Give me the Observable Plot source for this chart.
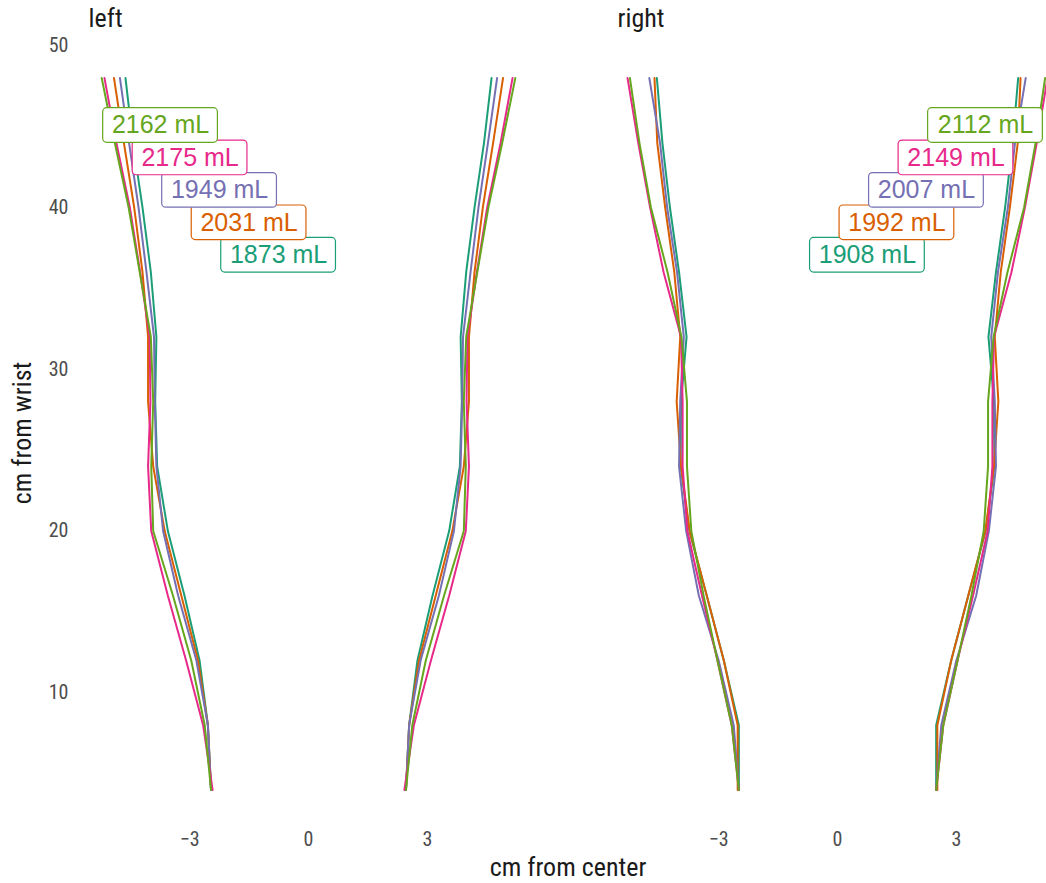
<!DOCTYPE html>
<html>
<head>
<meta charset="utf-8">
<script src="https://cdn.jsdelivr.net/npm/d3@7"></script>
<script src="https://cdn.jsdelivr.net/npm/@observablehq/plot@0.6"></script>
<style>
  html, body { margin: 0; padding: 0; background: #ffffff; }
  #chart { width: 1046px; height: 883px; overflow: hidden; }
</style>
</head>
<body>
<div id="chart"></div>
<script>
// ---- data -------------------------------------------------------------
const arms = ["left", "right"];
const heights = [4, 8, 12, 16, 20, 24, 28, 32, 36, 40, 44, 48]; // cm from wrist
const subjects = ["1", "2", "3", "4", "5"];
const subjectColors = ["#1b9e77", "#d95f02", "#7570b3", "#e7298a", "#66a61e"];

// arm radius (cm from center) at each height, left arm
const left1 = [2.46, 2.54, 2.75, 3.13, 3.55, 3.82, 3.87, 3.84, 3.98, 4.19, 4.43, 4.62];
const left2 = [2.46, 2.54, 2.79, 3.21, 3.63, 3.92, 4.05, 4.05, 4.19, 4.40, 4.66, 4.91];
const left3 = [2.46, 2.54, 2.83, 3.29, 3.67, 3.84, 3.88, 3.90, 4.09, 4.29, 4.53, 4.76];
const left4 = [2.42, 2.66, 3.09, 3.55, 3.97, 4.05, 3.99, 4.01, 4.25, 4.51, 4.85, 5.15];
const left5 = [2.46, 2.62, 2.96, 3.42, 3.92, 3.97, 3.92, 3.98, 4.26, 4.54, 4.89, 5.22];
// right arm
const right1 = [2.49, 2.49, 2.87, 3.30, 3.74, 3.96, 3.95, 3.81, 4.00, 4.23, 4.42, 4.56];
const right2 = [2.52, 2.52, 2.87, 3.30, 3.73, 3.95, 4.06, 3.97, 4.12, 4.35, 4.55, 4.62];
const right3 = [2.49, 2.62, 3.00, 3.50, 3.82, 4.00, 3.97, 3.88, 4.05, 4.30, 4.48, 4.75];
const right4 = [2.49, 2.67, 3.03, 3.42, 3.79, 3.91, 3.91, 3.95, 4.39, 4.73, 5.03, 5.30];
const right5 = [2.49, 2.67, 3.03, 3.38, 3.69, 3.80, 3.80, 3.94, 4.29, 4.71, 5.00, 5.24];

const volumesLeft = [1873, 2031, 1949, 2175, 2162];   // mL
const volumesRight = [1908, 1992, 2007, 2149, 2112];  // mL

const xTicks = [-3, 0, 3];
const yTicks = [10, 20, 30, 40, 50];

// ---- build tables -----------------------------------------------------
const radii = {left: [left1, left2, left3, left4, left5], right: [right1, right2, right3, right4, right5]};
const volumes = {left: volumesLeft, right: volumesRight};

const rows = [];
for (const arm of arms) {
  subjects.forEach((s, i) => {
    for (const side of [-1, 1]) {
      heights.forEach((h, k) => {
        rows.push({arm, subject: s, key: arm + s + side, y: h, x: side * radii[arm][i][k]});
      });
    }
  });
}

// staggered label layout (teal lowest, green highest)
const labels = [];
for (const arm of arms) {
  const sgn = arm === "left" ? -1 : 1;
  subjects.forEach((s, i) => {
    labels.push({arm, subject: s, text: `${volumes[arm][i]} mL`,
                 x: sgn * (0.755 + 0.745 * i), y: 37.05 + 2.005 * i});
  });
}
const halfW = 1.448, halfH = 1.07;

const font = "'Roboto Condensed','Liberation Sans Narrow','DejaVu Sans Condensed',sans-serif";

const plot = Plot.plot({
  width: 1046,
  height: 883,
  marginLeft: 81,
  marginRight: 0,
  marginTop: 42,
  marginBottom: 58,
  style: {fontFamily: font, fontSize: "20px", color: "#4d4d4d", background: "#ffffff"},
  fx: {domain: arms, axis: null, paddingInner: 0.1792, paddingOuter: 0, label: null},
  x: {domain: [-5.705, 5.25], ticks: xTicks, tickSize: 0, tickPadding: 6, label: null},
  y: {domain: [1.8, 50.2], ticks: yTicks, tickSize: 0, tickPadding: 14, label: null},
  color: {domain: subjects, range: subjectColors},
  marks: [
    Plot.line(rows, {x: "x", y: "y", z: "key", fx: "arm", stroke: "subject", strokeWidth: 2, curve: "linear"}),
    Plot.rect(labels, {fx: "arm", x1: d => d.x - halfW, x2: d => d.x + halfW,
                       y1: d => d.y - halfH, y2: d => d.y + halfH,
                       fill: "#ffffff", stroke: "subject", strokeWidth: 1.2, rx: 4}),
    Plot.text(labels, {fx: "arm", x: "x", y: "y", text: "text", fill: "subject",
                       fontSize: 25, fontFamily: "'Liberation Sans', Arial, sans-serif"}),
    Plot.text(arms, {fx: d => d, text: d => d, frameAnchor: "top-left", textAnchor: "start",
                     lineAnchor: "middle", dx: 6, dy: -24, fontSize: 26, fill: "#1a1a1a"})
  ]
});

document.getElementById("chart").appendChild(plot);

// axis titles
const svg = d3.select(plot);
svg.append("text")
  .attr("x", 568).attr("y", 867)
  .attr("text-anchor", "middle").attr("dominant-baseline", "central")
  .attr("fill", "#1a1a1a").style("font-size", "26px").style("font-family", font)
  .text("cm from center");
svg.append("text")
  .attr("transform", "translate(22,433) rotate(-90)")
  .attr("text-anchor", "middle").attr("dominant-baseline", "central")
  .attr("fill", "#1a1a1a").style("font-size", "26px").style("font-family", font)
  .text("cm from wrist");
</script>
</body>
</html>
